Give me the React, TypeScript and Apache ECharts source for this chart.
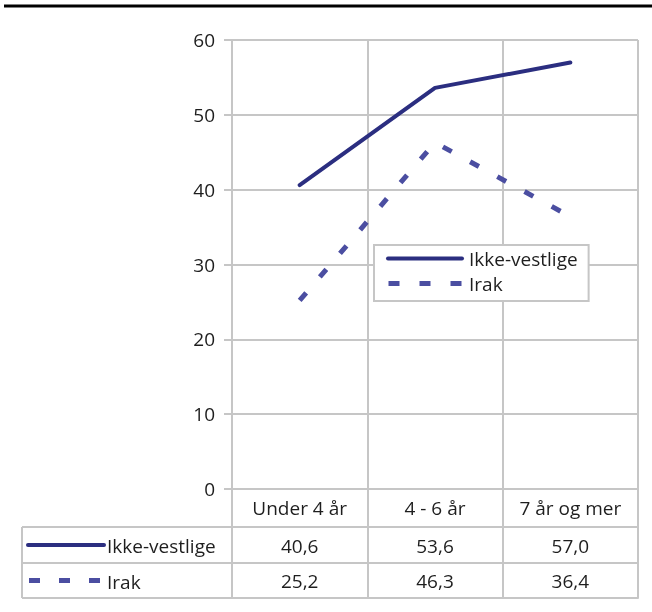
import React, { useEffect, useRef } from "react";
import * as echarts from "echarts";

const categories = ["Under 4 år", "4 - 6 år", "7 år og mer"];
const seriesNames = ["Ikke-vestlige", "Irak"];
const ikkeVestlige = [40.6, 53.6, 57.0];
const irak = [25.2, 46.3, 36.4];
const yMin = 0;
const yMax = 60;
const yInterval = 10;

const fmt = (v: number) => v.toFixed(1).replace(".", ",");

const GRID = "#c6c6c6";
const TEXT = "#1e1e1e";
const FONT = "Open Sans";
const NAVY = "#2b2e80";
const DASHC = "#4b4ea1";

const SOLID_ICON = "path://M2,0H76A2,2 0 0 1 76,4H2A2,2 0 0 1 2,0Z";
const DASH_ICON = "path://M0,0H11V5H0Z M31,0H42V5H31Z M62,0H73V5H62Z";

export default function App() {
  const ref = useRef<HTMLDivElement>(null);
  useEffect(() => {
    const chart = echarts.init(ref.current!, null, { renderer: "svg" });
    const gridLeft = 232;
    const gridTop = 40;
    const gridW = 406;
    const gridH = 449;
    const base = gridTop + gridH;
    const off1 = 38;
    const off2 = 74;
    const off3 = 109;
    const labelStyle = { fontFamily: FONT, fontSize: 19, color: TEXT };

    const xAxisAt = (offset: number, tickLen: number, formatter: any, margin: number, split = false) => ({
      type: "category",
      data: categories,
      position: "bottom",
      offset,
      boundaryGap: true,
      axisLine: { show: true, onZero: false, lineStyle: { color: GRID, width: 2 } },
      axisTick: {
        show: tickLen > 0,
        length: tickLen,
        interval: 0,
        alignWithLabel: false,
        lineStyle: { color: GRID, width: 2 },
      },
      axisLabel: {
        show: !!formatter,
        formatter,
        interval: 0,
        margin,
        verticalAlign: "middle",
        ...labelStyle,
      },
      splitLine: { show: split, interval: 0, lineStyle: { color: GRID, width: 2 } },
    });

    const rowY1 = base + off1;
    const rowY2 = base + off2;
    const rowY3 = base + off3;
    const tableLeft = 22;

    chart.setOption({
      animation: false,
      grid: { left: gridLeft, top: gridTop, width: gridW, height: gridH, containLabel: false },
      xAxis: [
        xAxisAt(0, off1, (v: string) => v, 19, true),
        xAxisAt(off1, off2 - off1, (_v: string, i: number) => fmt(ikkeVestlige[i]), 18.5),
        xAxisAt(off2, off3 - off2, (_v: string, i: number) => fmt(irak[i]), 18),
        xAxisAt(off3, 0, null, 10),
      ],
      yAxis: {
        type: "value",
        min: yMin,
        max: yMax,
        interval: yInterval,
        axisLine: { show: true, lineStyle: { color: GRID, width: 2 } },
        axisTick: { show: true, length: 8, lineStyle: { color: GRID, width: 2 } },
        axisLabel: { margin: 17, ...labelStyle },
        splitLine: { show: true, lineStyle: { color: GRID, width: 2 } },
      },
      legend: {
        left: 374,
        top: 245,
        orient: "vertical",
        itemWidth: 78,
        itemHeight: 5,
        itemGap: 6,
        padding: [4, 11, 8, 12],
        borderColor: GRID,
        borderWidth: 2,
        backgroundColor: "#fff",
        textStyle: { ...labelStyle },
        data: [
          { name: seriesNames[0], icon: SOLID_ICON, itemStyle: { color: NAVY, borderWidth: 0 } },
          { name: seriesNames[1], icon: DASH_ICON, itemStyle: { color: DASHC, borderWidth: 0 } },
        ],
      },
      series: [
        {
          name: seriesNames[0],
          type: "line",
          data: ikkeVestlige,
          symbol: "none",
          lineStyle: { color: NAVY, width: 4, cap: "round" },
          itemStyle: { color: NAVY },
        },
        {
          name: seriesNames[1],
          type: "line",
          data: irak,
          symbol: "none",
          lineStyle: { color: DASHC, width: 5, type: [10, 21], cap: "butt" },
          itemStyle: { color: DASHC },
        },
      ],
      graphic: [
        { type: "line", shape: { x1: 4, y1: 6, x2: 652, y2: 6 }, style: { stroke: "#000", lineWidth: 3 } },
        { type: "line", shape: { x1: tableLeft, y1: rowY1, x2: gridLeft, y2: rowY1 }, style: { stroke: GRID, lineWidth: 2 } },
        { type: "line", shape: { x1: tableLeft, y1: rowY2, x2: gridLeft, y2: rowY2 }, style: { stroke: GRID, lineWidth: 2 } },
        { type: "line", shape: { x1: tableLeft, y1: rowY3, x2: gridLeft, y2: rowY3 }, style: { stroke: GRID, lineWidth: 2 } },
        { type: "line", shape: { x1: tableLeft, y1: rowY1, x2: tableLeft, y2: rowY3 }, style: { stroke: GRID, lineWidth: 2 } },
        {
          type: "line",
          shape: { x1: 28, y1: (rowY1 + rowY2) / 2, x2: 104, y2: (rowY1 + rowY2) / 2 },
          style: { stroke: NAVY, lineWidth: 4, lineCap: "round" },
        },
        {
          type: "line",
          shape: { x1: 29, y1: (rowY2 + rowY3) / 2, x2: 101, y2: (rowY2 + rowY3) / 2 },
          style: { stroke: DASHC, lineWidth: 5, lineDash: [11, 19] },
        },
        {
          type: "text",
          x: 107,
          y: (rowY1 + rowY2) / 2 + 1,
          style: { text: seriesNames[0], ...labelStyle, fill: TEXT, verticalAlign: "middle" },
        },
        {
          type: "text",
          x: 107,
          y: (rowY2 + rowY3) / 2 + 1,
          style: { text: seriesNames[1], ...labelStyle, fill: TEXT, verticalAlign: "middle" },
        },
      ],
    });
    return () => chart.dispose();
  }, []);
  return <div ref={ref} style={{ position: "fixed", left: 0, top: 0, width: 652, height: 612 }} />;
}
